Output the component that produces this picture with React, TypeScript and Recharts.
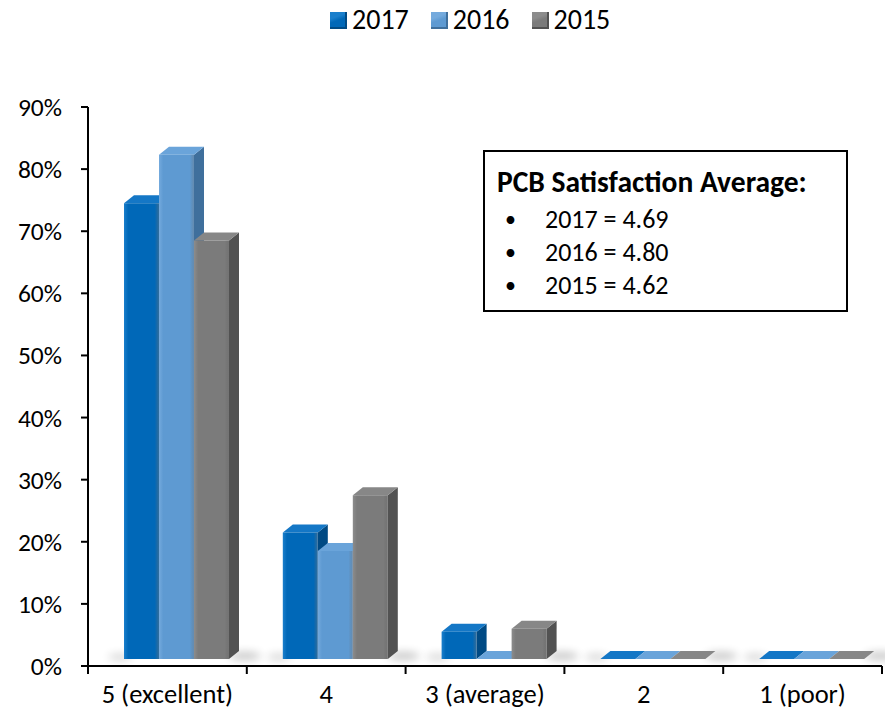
import { BarChart, Bar, XAxis, YAxis } from "recharts";

const categories = ["5 (excellent)", "4", "3 (average)", "2", "1 (poor)"];
const years = ["2017", "2016", "2015"];
const share2017 = [0.745, 0.215, 0.055, 0, 0];
const share2016 = [0.823, 0.185, 0, 0.005, 0];
const share2015 = [0.685, 0.275, 0.06, 0, 0];
const yTicks = [0, 0.1, 0.2, 0.3, 0.4, 0.5, 0.6, 0.7, 0.8, 0.9];
const averageLines = ["2017 = 4.69", "2016 = 4.80", "2015 = 4.62"];

const data = categories.map((name, i) => ({
  name,
  y2017: share2017[i],
  y2016: share2016[i],
  y2015: share2015[i],
}));

const W = 885;
const H = 721;
const PLOT_TOP = 107;
const X_AXIS_H = 55;
const Y_AXIS_W = 88;
const RIGHT = 3;
const AXIS_Y = H - X_AXIS_H;
const BAND = (W - RIGHT - Y_AXIS_W) / categories.length;

// fake-3D projection
const SHIFT_X = 9;
const LIFT = 7;
const DEPTH_X = 10;
const DEPTH_Y = 8;

const FONT = "Carlito, Lato, 'Liberation Sans', sans-serif";

type Palette = { id: string; front: string; light: string; side: string; cap: string };

const palettes: Palette[] = [
  { id: "p17", front: "#0068b8", light: "#1a7fcc", side: "#004a84", cap: "#1477c6" },
  { id: "p16", front: "#5e9ad2", light: "#74aadd", side: "#3f6f9c", cap: "#6aa4da" },
  { id: "p15", front: "#7b7b7b", light: "#8c8c8c", side: "#525252", cap: "#878787" },
];

function Bar3D(props: any) {
  const { x, y, width, height, pal, first, last } = props;
  if (x == null || y == null) return null;
  const fx = x + SHIFT_X;
  const base = y + (height || 0) - LIFT;
  const top = Math.min(y, base);
  const right = fx + width;
  const front = `M${fx},${top} L${right},${top} L${right},${base} L${fx},${base} Z`;
  const side = `M${right},${top} L${right + DEPTH_X},${top - DEPTH_Y} L${right + DEPTH_X},${base - DEPTH_Y} L${right},${base} Z`;
  const cap = `M${fx},${top} L${fx + DEPTH_X},${top - DEPTH_Y} L${right + DEPTH_X},${top - DEPTH_Y} L${right},${top} Z`;
  return (
    <g>
      {first && (
        <ellipse cx={fx - 4} cy={base - 2} rx={12} ry={3} fill="#000" opacity={0.18} filter="url(#barShadow)" />
      )}
      {last && (
        <ellipse cx={right + DEPTH_X + 6} cy={base - 3} rx={16} ry={4} fill="#000" opacity={0.22} filter="url(#barShadow)" />
      )}
      <path d={side} fill={pal.side} strokeLinejoin="round" />
      <path d={cap} fill={pal.cap} strokeLinejoin="round" />
      {base > top && <path d={front} fill={`url(#${pal.id})`} />}
    </g>
  );
}

function CategoryTick(props: any) {
  const { x, payload, index } = props;
  const half = payload && payload.offset ? payload.offset : BAND / 2;
  return (
    <g>
      <line x1={x - half} x2={x - half} y1={AXIS_Y} y2={AXIS_Y + 8} stroke="#000" strokeWidth={2} />
      {index === categories.length - 1 && (
        <line x1={x + half} x2={x + half} y1={AXIS_Y} y2={AXIS_Y + 8} stroke="#000" strokeWidth={2} />
      )}
      <text x={x} y={AXIS_Y + 37} textAnchor="middle" fill="#000" fontSize={26.5} fontFamily={FONT}>
        {payload.value}
      </text>
    </g>
  );
}

function LegendIcon({ pal }: { pal: Palette }) {
  return (
    <span
      style={{
        display: "inline-block",
        width: 17,
        height: 17,
        boxSizing: "border-box",
        background: `linear-gradient(160deg, ${pal.light} 0%, ${pal.light} 35%, ${pal.front} 55%, ${pal.front} 100%)`,
        borderRight: `2px solid ${pal.side}`,
        borderBottom: `2px solid ${pal.side}`,
        marginRight: 5,
      }}
    />
  );
}

export default function App() {
  const keys = ["y2017", "y2016", "y2015"];
  return (
    <div style={{ position: "absolute", left: 0, top: 0, width: W, height: H, background: "#fff", fontFamily: FONT }}>
      <svg width={0} height={0} style={{ position: "absolute" }}>
        <defs>
          {palettes.map((p) => (
            <linearGradient key={p.id} id={p.id} x1="0" y1="0" x2="1" y2="0">
              <stop offset="0%" stopColor={p.light} />
              <stop offset="12%" stopColor={p.front} />
              <stop offset="88%" stopColor={p.front} />
              <stop offset="100%" stopColor={p.side} stopOpacity={0.8} />
            </linearGradient>
          ))}
          <filter id="barShadow" x="-100%" y="-200%" width="300%" height="500%">
            <feGaussianBlur stdDeviation="4" />
          </filter>
        </defs>
      </svg>

      <div
        style={{
          position: "absolute",
          left: 330,
          top: 3,
          display: "flex",
          alignItems: "center",
          gap: 22,
          fontSize: 28,
          lineHeight: "34px",
          color: "#000",
        }}
      >
        {years.map((yr, i) => (
          <div key={yr} style={{ display: "flex", alignItems: "center" }}>
            <LegendIcon pal={palettes[i]} />
            <span>{yr}</span>
          </div>
        ))}
      </div>

      <BarChart
        width={W}
        height={H}
        data={data}
        margin={{ top: PLOT_TOP, right: RIGHT, bottom: 0, left: 0 }}
        barSize={35}
        barGap={0}
      >
        <XAxis
          dataKey="name"
          height={X_AXIS_H}
          axisLine={{ stroke: "#000", strokeWidth: 2 }}
          tickLine={false}
          tick={<CategoryTick />}
          interval={0}
        />
        <YAxis
          width={Y_AXIS_W}
          domain={[0, 0.9]}
          ticks={yTicks}
          interval={0}
          tickFormatter={(v: number) => `${Math.round(v * 100)}%`}
          axisLine={{ stroke: "#000", strokeWidth: 2 }}
          tickLine={{ stroke: "#000", strokeWidth: 2 }}
          tickSize={7}
          tickMargin={19}
          tick={{ fill: "#000", fontSize: 25.5, fontFamily: FONT }}
        />
        {keys.map((k, i) => (
          <Bar
            key={k}
            dataKey={k}
            name={years[i]}
            isAnimationActive={false}
            shape={(p: any) => (
              <Bar3D {...p} pal={palettes[i]} first={i === 0} last={i === keys.length - 1} />
            )}
          />
        ))}
      </BarChart>

      <div
        style={{
          position: "absolute",
          left: 483,
          top: 150,
          width: 365,
          height: 162,
          boxSizing: "border-box",
          border: "2px solid #000",
          background: "#fff",
          padding: "14px 0 0 12px",
          color: "#000",
        }}
      >
        <div style={{ fontWeight: 700, fontSize: 29.5, lineHeight: "33px", marginBottom: 4 }}>
          PCB Satisfaction Average:
        </div>
        {averageLines.map((line) => (
          <div key={line} style={{ display: "flex", fontSize: 26, lineHeight: "33px" }}>
            <span style={{ width: 48, paddingLeft: 8, boxSizing: "border-box", fontSize: 22 }}>•</span>
            <span>{line}</span>
          </div>
        ))}
      </div>
    </div>
  );
}
